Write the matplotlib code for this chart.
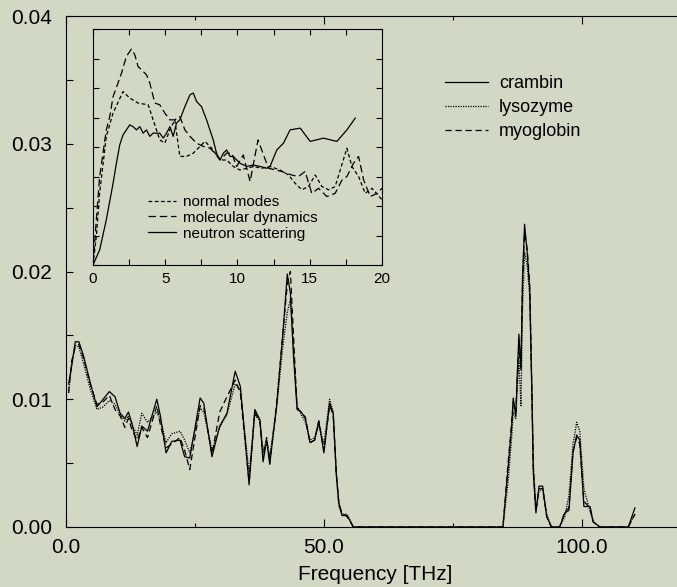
import numpy as np
import matplotlib
matplotlib.use('Agg')
import matplotlib.pyplot as plt

plt.rcParams['font.family'] = ['Liberation Sans', 'DejaVu Sans']

# main plot: density of states vs frequency
freq_low = [0.5, 1.1, 1.8, 2.5, 3.4, 4.7, 6.0, 7.2, 8.4, 9.5, 10.5, 11.4, 12.1, 12.8, 13.8, 14.7,
            15.8, 17.6, 18.3, 19.4, 20.5, 22.1, 23.0, 24.0, 26.0, 26.7, 28.3, 29.8, 31.2, 32.8,
            33.8, 35.5, 36.6, 37.6, 38.2, 38.9, 39.5, 40.8, 42.0, 42.9, 43.5, 44.1, 44.8, 45.6,
            46.4, 47.3, 48.2, 49.0, 50.0, 51.1, 51.8, 52.4, 52.9, 53.5, 54.5, 55.7]
freq_high = [84.7, 85.7, 86.4, 86.7, 87.2, 87.5, 87.8, 88.2, 88.5, 88.9, 89.4, 89.9, 90.3, 90.6,
             91.1, 91.7, 92.4, 93.2, 94.1, 95.7, 96.7, 97.5, 98.3, 99.0, 99.6, 100.4, 101.6,
             102.2, 103.5, 109.0, 110.3]

crambin_low = [0.0112, 0.0126, 0.0145, 0.0145, 0.0134, 0.0113, 0.0094, 0.0100, 0.0106, 0.0102,
               0.0089, 0.0085, 0.0090, 0.0081, 0.0063, 0.0079, 0.0075, 0.0100, 0.0087, 0.0058,
               0.0067, 0.0068, 0.0055, 0.0054, 0.0101, 0.0097, 0.0055, 0.0079, 0.0089, 0.0122,
               0.0110, 0.0033, 0.0092, 0.0084, 0.0051, 0.0068, 0.0049, 0.0094, 0.0149, 0.0198,
               0.0183, 0.0134, 0.0092, 0.0090, 0.0085, 0.0066, 0.0068, 0.0083, 0.0058, 0.0097,
               0.0089, 0.0042, 0.0019, 0.0009, 0.0009, 0.0]
crambin_high = [0.0, 0.0046, 0.0079, 0.0101, 0.0087, 0.0121, 0.0151, 0.0123, 0.0196, 0.0237,
                0.0215, 0.0186, 0.0108, 0.0042, 0.0011, 0.0032, 0.0032, 0.0008, 0.0, 0.0,
                0.0011, 0.0013, 0.0058, 0.0072, 0.0068, 0.0016, 0.0016, 0.0004, 0.0, 0.0, 0.0015]

lysozyme_low = [0.0105, 0.0128, 0.0142, 0.0141, 0.0128, 0.0108, 0.0092, 0.0094, 0.0099, 0.0096,
                0.0088, 0.0083, 0.0087, 0.0080, 0.0072, 0.0089, 0.0082, 0.0090, 0.0084, 0.0066,
                0.0073, 0.0075, 0.0068, 0.0058, 0.0093, 0.0090, 0.0060, 0.0078, 0.0088, 0.0112,
                0.0107, 0.0042, 0.0088, 0.0083, 0.0060, 0.0068, 0.0055, 0.0092, 0.0140, 0.0168,
                0.0178, 0.0140, 0.0095, 0.0088, 0.0082, 0.0068, 0.0070, 0.0080, 0.0065, 0.0100,
                0.0090, 0.0040, 0.0016, 0.0010, 0.0010, 0.0]
lysozyme_high = [0.0, 0.0035, 0.0070, 0.0090, 0.0085, 0.0110, 0.0130, 0.0095, 0.0170, 0.0215,
                 0.0205, 0.0180, 0.0110, 0.0050, 0.0015, 0.0028, 0.0030, 0.0010, 0.0, 0.0,
                 0.0008, 0.0025, 0.0065, 0.0082, 0.0075, 0.0030, 0.0012, 0.0004, 0.0, 0.0, 0.0010]

myoglobin_low = [0.0105, 0.0130, 0.0141, 0.0143, 0.0132, 0.0112, 0.0096, 0.0098, 0.0103, 0.0092,
                 0.0087, 0.0078, 0.0085, 0.0076, 0.0068, 0.0078, 0.0070, 0.0095, 0.0080, 0.0062,
                 0.0065, 0.0070, 0.0060, 0.0045, 0.0095, 0.0094, 0.0057, 0.0090, 0.0102, 0.0115,
                 0.0105, 0.0035, 0.0090, 0.0082, 0.0055, 0.0070, 0.0050, 0.0095, 0.0150, 0.0190,
                 0.0200, 0.0150, 0.0093, 0.0090, 0.0086, 0.0066, 0.0068, 0.0083, 0.0060, 0.0095,
                 0.0088, 0.0042, 0.0018, 0.0011, 0.0008, 0.0]
myoglobin_high = [0.0, 0.0050, 0.0082, 0.0098, 0.0090, 0.0118, 0.0140, 0.0125, 0.0190, 0.0230,
                  0.0218, 0.0190, 0.0110, 0.0045, 0.0012, 0.0030, 0.0030, 0.0008, 0.0, 0.0,
                  0.0012, 0.0015, 0.0060, 0.0070, 0.0065, 0.0020, 0.0015, 0.0004, 0.0, 0.0, 0.0010]

# inset: low frequency comparison
nm_x = [0, 0.23, 0.46, 0.92, 1.39, 2.08, 2.54, 3.12, 3.82, 4.16, 4.62, 4.97, 5.32, 5.66, 6.01,
        6.47, 6.94, 7.40, 7.75, 8.21, 8.79, 9.25, 9.71, 10.17, 10.64, 11.10, 11.68, 12.25, 12.95,
        13.53, 13.99, 14.45, 14.91, 15.38, 15.84, 16.30, 16.76, 17.57, 17.92, 18.38, 18.84,
        19.31, 20.0]
nm_y = [0, 0.96, 2.43, 4.36, 5.15, 5.88, 5.66, 5.49, 5.43, 4.92, 4.24, 4.13, 4.58, 4.92, 3.68,
        3.68, 3.79, 4.02, 4.19, 3.96, 3.56, 3.56, 3.34, 3.22, 3.28, 3.34, 3.28, 3.34, 3.22,
        3.05, 2.77, 2.55, 2.66, 3.05, 2.66, 2.55, 2.66, 3.96, 3.34, 3.00, 2.43, 2.60, 2.21]

md_x = [0, 0.23, 0.46, 0.92, 1.16, 1.39, 1.73, 1.97, 2.31, 2.66, 2.89, 3.12, 3.47, 3.70, 3.93,
        4.28, 4.62, 4.97, 5.32, 5.66, 6.01, 6.36, 6.71, 7.17, 7.63, 8.09, 8.44, 8.79, 9.25,
        9.60, 9.94, 10.40, 10.87, 11.42, 12.14, 13.06, 13.76, 14.22, 14.68, 15.14, 15.61,
        16.18, 16.76, 17.23, 17.57, 18.03, 18.38, 18.73, 19.19, 19.65, 20.0]
md_y = [0, 1.53, 3.00, 4.58, 5.03, 5.71, 6.17, 6.50, 7.07, 7.32, 7.13, 6.73, 6.56, 6.45, 6.17,
        5.49, 5.43, 5.15, 4.92, 4.92, 5.03, 4.58, 4.36, 4.13, 4.02, 3.96, 3.79, 3.56, 3.79,
        3.79, 3.34, 3.73, 2.83, 4.24, 3.28, 3.17, 3.05, 3.00, 3.17, 2.43, 2.60, 2.32, 2.43,
        2.88, 3.00, 3.45, 3.68, 2.88, 2.32, 2.43, 2.60]

ns_x = [0, 0.46, 0.92, 1.39, 1.62, 1.85, 2.08, 2.31, 2.54, 2.77, 3.01, 3.24, 3.47, 3.70, 3.93,
        4.16, 4.62, 4.86, 5.09, 5.32, 5.55, 5.78, 6.01, 6.36, 6.71, 6.94, 7.17, 7.51, 7.86,
        8.09, 8.32, 8.55, 8.79, 9.02, 9.25, 9.48, 9.71, 10.17, 10.64, 11.10, 11.56, 12.02,
        12.25, 12.72, 13.18, 13.64, 14.34, 15.03, 15.95, 16.88, 17.57, 18.15]
ns_y = [0, 0.51, 1.53, 2.77, 3.45, 4.07, 4.41, 4.58, 4.75, 4.69, 4.58, 4.69, 4.47, 4.58, 4.36,
        4.47, 4.47, 4.30, 4.47, 4.69, 4.36, 4.81, 4.92, 5.37, 5.77, 5.83, 5.54, 5.37, 4.92,
        4.58, 4.24, 3.79, 3.56, 3.79, 3.90, 3.68, 3.68, 3.45, 3.34, 3.39, 3.34, 3.28, 3.34,
        3.90, 4.13, 4.58, 4.64, 4.19, 4.30, 4.19, 4.58, 4.98]

bg = '#d1d9c5'
fig = plt.figure(figsize=(6.77, 5.87), dpi=100, facecolor=bg)

ax = fig.add_axes([66/677, 60/587, 619/677, 511/587], facecolor=bg)
ax.plot(freq_low + freq_high, crambin_low + crambin_high, color='black', lw=0.9, label='crambin')
ax.plot(freq_low + freq_high, lysozyme_low + lysozyme_high, color='black', lw=0.9,
        dashes=(1, 1), label='lysozyme')
ax.plot(freq_low + freq_high, myoglobin_low + myoglobin_high, color='black', lw=0.9,
        dashes=(5, 3), label='myoglobin')
ax.set_xlim(0, 120)
ax.set_ylim(0, 0.04)
ax.set_xticks([0, 50, 100])
ax.set_xticklabels(['0.0', '50.0', '100.0'])
ax.set_xticks([25, 75], minor=True)
ax.set_yticks([0, 0.01, 0.02, 0.03, 0.04])
ax.set_yticklabels(['0.00', '0.01', '0.02', '0.03', '0.04'])
ax.set_yticks([0.005, 0.015, 0.025, 0.035], minor=True)
ax.tick_params(which='both', direction='in', top=True, right=True, labelsize=15, width=0.8)
ax.tick_params(axis='x', which='major', length=6, pad=8)
ax.tick_params(axis='x', which='minor', length=3)
ax.tick_params(axis='y', which='both', length=5, pad=10)
for s in ax.spines.values():
    s.set_linewidth(0.8)
ax.set_xlabel('Frequency [THz]', fontsize=15, labelpad=6)
ax.legend(loc='upper left', bbox_to_anchor=(0.612, 0.884), frameon=False, fontsize=13,
          handlelength=2.4, handletextpad=0.6, labelspacing=0.38, borderpad=0, borderaxespad=0)

ins = fig.add_axes([93/677, 322/587, 289/677, 236/587], facecolor=bg)
ins.plot(nm_x, nm_y, color='black', lw=0.9, dashes=(3, 2), label='normal modes')
ins.plot(md_x, md_y, color='black', lw=0.9, dashes=(6, 3), label='molecular dynamics')
ins.plot(ns_x, ns_y, color='black', lw=0.9, label='neutron scattering')
ins.set_xlim(0, 20)
ins.set_ylim(0, 8)
ins.set_xticks([0, 5, 10, 15, 20])
ins.set_xticks([2.5, 7.5, 12.5, 17.5], minor=True)
ins.set_yticks(np.arange(0, 9, 1))
ins.set_yticklabels([])
ins.tick_params(which='both', direction='in', top=True, right=True, length=4, width=0.8,
                labelsize=11, pad=5)
for s in ins.spines.values():
    s.set_linewidth(0.8)
ins.legend(loc='upper left', bbox_to_anchor=(0.19, 0.297), frameon=False, fontsize=11,
           handlelength=1.85, handletextpad=0.45, labelspacing=0.12, borderpad=0, borderaxespad=0)

fig.savefig('out.png', dpi=100, facecolor=bg)
